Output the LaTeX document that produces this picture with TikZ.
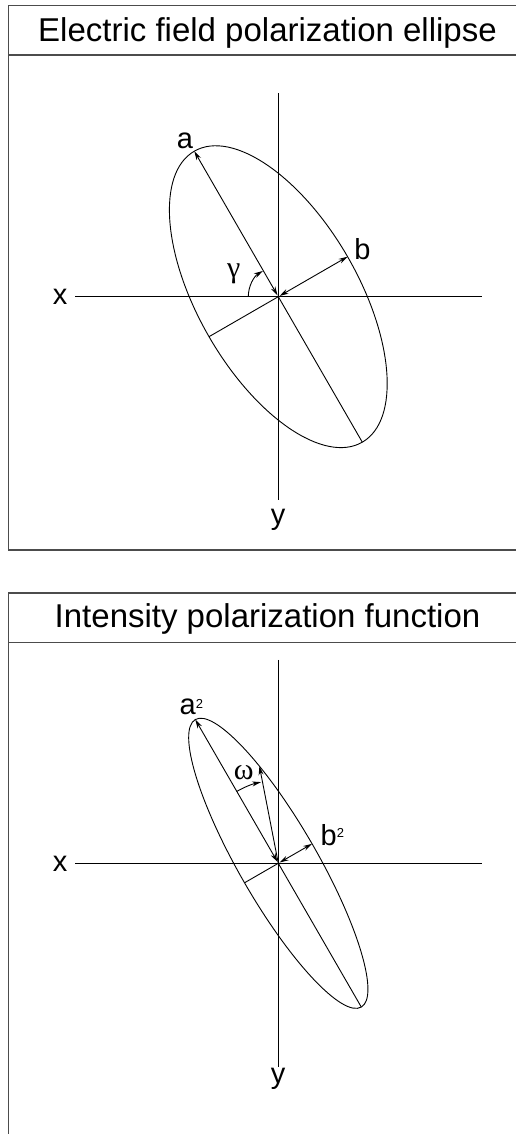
\documentclass[tikz,border=0pt]{standalone}
\usepackage{fontspec}
\setmainfont{Liberation Sans}
\newfontfamily\greekfont{Liberation Serif}
\usetikzlibrary{arrows.meta,calc}
\begin{document}
\begin{tikzpicture}[x=1pt,y=1pt,
  ln/.style={line width=0.9pt},
  frame/.style={line width=1.3pt, draw=black!70},
  dbl/.style={line width=0.9pt, {Stealth[length=9pt,width=5pt]}-{Stealth[length=9pt,width=5pt]}},
  one/.style={line width=0.9pt, -{Stealth[length=9pt,width=5pt]}},
  lbl/.style={font=\fontsize{29}{31}\selectfont, inner sep=0pt, anchor=base},
  glbl/.style={font=\fontsize{30}{32}\selectfont\greekfont, inner sep=0pt, anchor=base},
  ttl/.style={font=\fontsize{33}{35}\selectfont, inner sep=0pt, anchor=base}]
\useasboundingbox (0,0) rectangle (516,1134);
\clip (0,0) rectangle (516,1134);
% ---------------- top panel ----------------
\draw[frame] (8.3,584) rectangle (527,1128.3);
\draw[frame] (8.3,1079) -- (527,1079);
\node[ttl] (t1) at (267.5,1092.3) {Electric field polarization ellipse};
\coordinate (c1) at (278.3,837.3);
\coordinate (xl1) at (75,837.3);
\coordinate (xr1) at (481.5,837.3);
\coordinate (yt1) at (278.3,1040.7);
\coordinate (yb1) at (278.3,634);
\draw[ln] (xl1) -- (xr1);
\draw[ln] (yt1) -- (yb1);
\begin{scope}[shift={(278.3,837.3)},rotate=120]
  \draw[ln] (0,0) ellipse [x radius=168, y radius=80];
\end{scope}
\coordinate (a1) at ($(c1)+(120:168)$);
\coordinate (a1o) at ($(c1)+(-60:168)$);
\coordinate (b1) at ($(c1)+(30:80)$);
\coordinate (b1o) at ($(c1)+(210:80)$);
\coordinate (g1) at ($(c1)+(180:30)$);
\draw[dbl, shorten <=1.5pt] (c1) -- (a1);
\draw[ln] (c1) -- (a1o);
\draw[dbl, shorten <=1.5pt] (c1) -- (b1);
\draw[ln] (c1) -- (b1o);
\draw[one] (g1) arc[start angle=180, end angle=121, radius=30];
\node[lbl] (xlab1) at (60,829) {x};
\node[lbl] (ylab1) at (278,609) {y};
\node[lbl] (alab) at (185,985.7) {a};
\node[lbl] (blab) at (362.5,874.7) {b};
\node[glbl] (glab) at (233.7,856) {γ};
% ---------------- bottom panel ----------------
\draw[frame] (8.3,-5) rectangle (527,541);
\draw[frame] (8.3,491.3) -- (527,491.3);
\node[ttl] (t2) at (267.5,506) {Intensity polarization function};
\coordinate (c2) at (278.3,270.7);
\coordinate (xl2) at (75,270.7);
\coordinate (xr2) at (481.5,270.7);
\coordinate (yt2) at (278.3,474);
\coordinate (yb2) at (278.3,67.3);
\draw[ln] (xl2) -- (xr2);
\draw[ln] (yt2) -- (yb2);
\begin{scope}[shift={(278.3,270.7)},rotate=120]
  \draw[ln] (0,0) ellipse [x radius=166, y radius=39];
\end{scope}
\coordinate (a2) at ($(c2)+(120:166)$);
\coordinate (a2o) at ($(c2)+(-60:166)$);
\coordinate (b2) at ($(c2)+(30:39)$);
\coordinate (b2o) at ($(c2)+(210:39)$);
\coordinate (w2) at ($(c2)+(101:99)$);
\coordinate (o2) at ($(c2)+(120:83)$);
\draw[dbl, shorten <=1.5pt] (c2) -- (a2);
\draw[ln] (c2) -- (a2o);
\draw[dbl, shorten <=1.5pt] (c2) -- (b2);
\draw[ln] (c2) -- (b2o);
\draw[one] (c2) -- (w2);
\draw[one] (o2) arc[start angle=120, end angle=102, radius=83];
\node[lbl] (xlab2) at (60,262.4) {x};
\node[lbl] (ylab2) at (278,50.7) {y};
\node[lbl] (a2lab) at (191.3,419) {a\raisebox{6pt}{\fontsize{13}{13}\selectfont 2}};
\node[lbl] (b2lab) at (332.3,288.3) {b\raisebox{8.5pt}{\fontsize{13}{13}\selectfont 2}};
\node[glbl] (wlab) at (243.7,354.7) {ω};
\end{tikzpicture}
\end{document}
